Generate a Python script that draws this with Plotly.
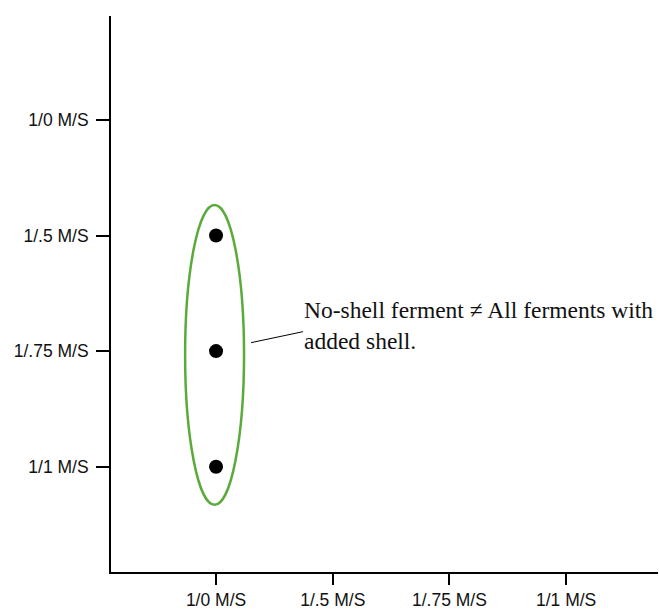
import plotly.graph_objects as go

# Axis categories (x: inoculum ratio tested, y: inoculum ratio compared)
x_labels = ["1/0 M/S", "1/.5 M/S", "1/.75 M/S", "1/1 M/S"]
y_labels = ["1/0 M/S", "1/.5 M/S", "1/.75 M/S", "1/1 M/S"]

# Significant pairwise differences
point_x = ["1/0 M/S", "1/0 M/S", "1/0 M/S"]
point_y = ["1/.5 M/S", "1/.75 M/S", "1/1 M/S"]

note_text = "No-shell ferment \u2260 All ferments with<br>added shell."

GREEN = "#5aab3c"
TICK_FONT = dict(family="Liberation Sans, Arial, sans-serif", size=17.5, color="#111111")

xi = [x_labels.index(v) for v in point_x]
yi = [y_labels.index(v) for v in point_y]

fig = go.Figure()
fig.add_trace(go.Scatter(
    x=xi, y=yi, mode="markers",
    marker=dict(size=14, color="black"),
    showlegend=False, hoverinfo="skip",
))

# Ellipse enclosing the grouped points
cx = sum(xi) / len(xi)
fig.add_shape(type="circle", xref="x", yref="y",
              x0=cx - 0.265, x1=cx + 0.24,
              y0=min(yi) - 0.265, y1=max(yi) + 0.33,
              line=dict(color=GREEN, width=2.5))

# Leader line from the ellipse to the note
fig.add_shape(type="line", xref="x", yref="y",
              x0=cx + 0.30, y0=1.927, x1=cx + 0.745, y1=1.832,
              line=dict(color="black", width=1))

fig.add_annotation(x=cx + 0.74, y=1.776, xref="x", yref="y",
                   text=note_text, showarrow=False,
                   xanchor="left", yanchor="middle", align="left",
                   font=dict(family="Liberation Serif, Times New Roman, serif",
                             size=23.5, color="#111111"))

fig.update_xaxes(
    tickmode="array", tickvals=list(range(len(x_labels))), ticktext=x_labels,
    range=[-0.9, 3.787], showgrid=False, zeroline=False,
    showline=True, linecolor="black", linewidth=1.8,
    ticks="outside", ticklen=11, tickwidth=1.5, tickcolor="black",
    tickfont=TICK_FONT,
)
fig.update_yaxes(
    tickmode="array", tickvals=list(range(len(y_labels))), ticktext=y_labels,
    range=[3.911, -0.899], showgrid=False, zeroline=False,
    showline=True, linecolor="black", linewidth=1.8,
    ticks="outside", ticklen=13, tickwidth=1.5, tickcolor="black",
    tickfont=TICK_FONT, ticklabelstandoff=4,
)

fig.update_layout(
    width=659, height=610,
    margin=dict(l=111, r=1, t=16, b=38),
    plot_bgcolor="white", paper_bgcolor="white",
)

fig.write_html("out.html")
